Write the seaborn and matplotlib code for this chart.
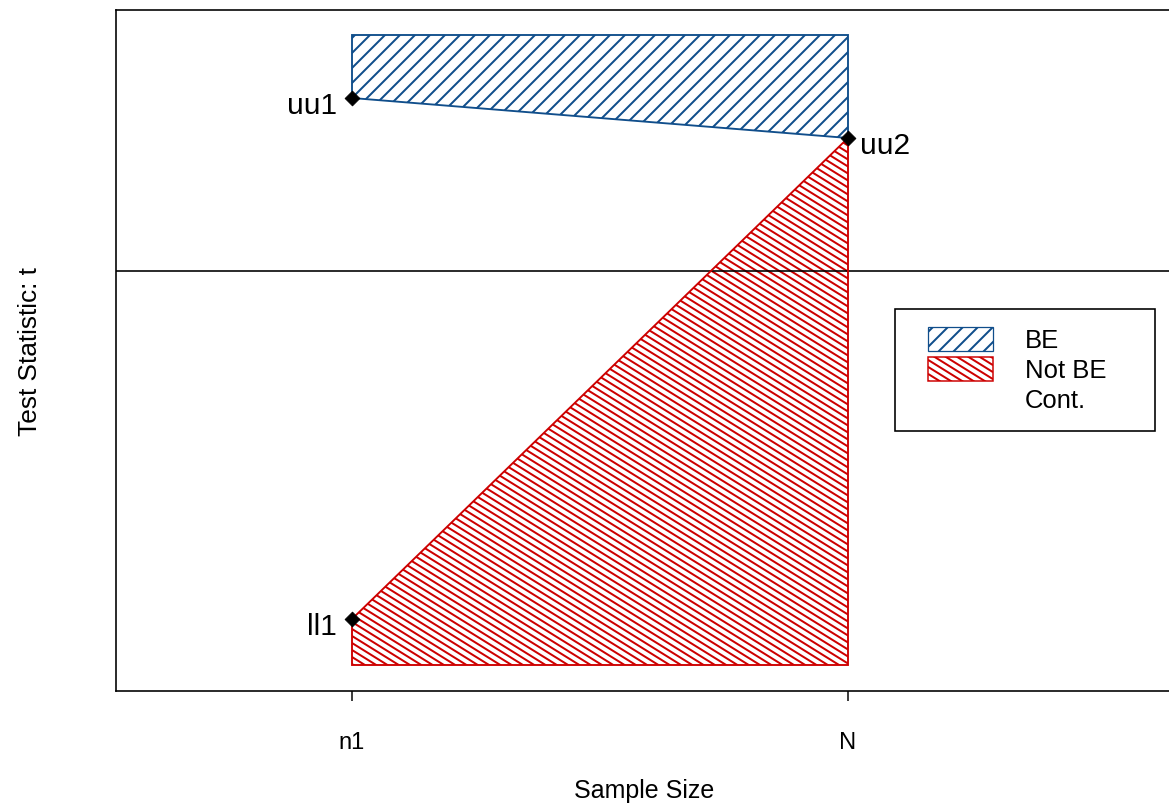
import numpy as np
import pandas as pd
import seaborn as sns
import matplotlib.pyplot as plt
from matplotlib.patches import Polygon, Patch, Rectangle
from matplotlib.collections import LineCollection

# x positions of the two looks
x_names = ["n1", "N"]
x_pos = [1, 2]

# boundary values (arbitrary t scale)
t_top = 2.36
t_bottom = -3.94
uu1 = 1.73
uu2 = 1.33
ll1 = -3.48
t_ref = 0.0

point_labels = ["uu1", "uu2", "ll1"]
point_x = [1, 2, 1]
point_t = [uu1, uu2, ll1]

legend_labels = ["BE", "Not BE", "Cont."]

blue = "#104E8B"
red = "#CD0000"

sns.set_style("white")
plt.rcParams["font.family"] = ["Liberation Sans", "DejaVu Sans"]
plt.rcParams["hatch.linewidth"] = 1.6
plt.rcParams["text.color"] = "black"
plt.rcParams["xtick.color"] = "black"
plt.rcParams["axes.labelcolor"] = "black"

W, H = 1169, 806
dpi = 90
fig = plt.figure(figsize=(W / dpi, H / dpi), dpi=dpi)
ax = fig.add_axes([116 / W, 1 - 691 / H, 1 - 116 / W, (691 - 10) / H])

px_x = 496.0   # pixels per x unit
px_y = 100.0   # pixels per t unit
slope_px = 0.62  # red hatch: down 0.62 px per px to the right
gap_px = 7.0     # vertical gap between red hatch lines

# BE region (upper)
be = Polygon([[x_pos[0], uu1], [x_pos[0], t_top], [x_pos[1], t_top], [x_pos[1], uu2]],
             closed=True, facecolor="none", edgecolor=blue, hatch="//", linewidth=1.5)
ax.add_patch(be)

# Not BE region (lower), shallower hatch drawn by hand and clipped
nbe = Polygon([[x_pos[0], t_bottom], [x_pos[0], ll1], [x_pos[1], uu2], [x_pos[1], t_bottom]],
              closed=True, facecolor="none", edgecolor=red, linewidth=1.5, zorder=3)
ax.add_patch(nbe)
k = slope_px * px_x / px_y
segs = [[(x_pos[0] - 0.1, c + 0.1 * k), (x_pos[1] + 0.1, c - 1.1 * k)]
        for c in np.arange(t_bottom - 0.2, uu2 + k + 0.2, gap_px / px_y)]
lc = LineCollection(segs, colors=red, linewidths=1.6, zorder=2)
ax.add_collection(lc)
lc.set_clip_path(nbe)

ax.axhline(t_ref, color="black", linewidth=1.3)

pts = pd.DataFrame({"x": point_x, "t": point_t, "lab": point_labels})
sns.scatterplot(data=pts, x="x", y="t", marker="D", color="black", s=70,
                edgecolor="black", ax=ax, zorder=5, legend=False)

for _, r in pts.iterrows():
    if r["x"] == x_pos[0]:
        ax.text(r["x"] - 0.03, r["t"] - 0.08, r["lab"], ha="right", va="center", fontsize=24)
    else:
        ax.text(r["x"] + 0.024, r["t"] - 0.08, r["lab"], ha="left", va="center", fontsize=24)

ax.set_xlim(1 - 236 / px_x, 2 + 321 / px_x)
ax.set_ylim(-(691 - 271) / px_y, (271 - 10) / px_y)

ax.set_xticks(x_pos)
ax.set_xticklabels(x_names, fontsize=19)
ax.set_yticks([])
ax.set_xlabel("")
ax.set_ylabel("")
ax.tick_params(axis="x", direction="out", length=8, width=1.2, pad=25, bottom=True,
               colors="black")

for s in ["left", "top", "bottom"]:
    ax.spines[s].set_visible(True)
    ax.spines[s].set_color("black")
    ax.spines[s].set_linewidth(1.3)
ax.spines["right"].set_visible(False)

fig.text(644 / W, 1 - 791 / H, "Sample Size", ha="center", va="center", fontsize=20)
fig.text(30 / W, 1 - 352 / H, "Test Statistic: t", ha="center", va="center",
         rotation=90, fontsize=21)


class ShallowHatch:
    # legend key: red box with the same shallow hatch as the plot
    def legend_artist(self, legend, orig_handle, fontsize, handlebox):
        x0, y0 = -handlebox.xdescent, -handlebox.ydescent
        w, h = handlebox.width, handlebox.height
        rect = Rectangle((x0, y0), w, h, facecolor="none", edgecolor=red, linewidth=1.2)
        handlebox.add_artist(rect)
        s = slope_px
        g = gap_px * 72 / dpi
        lines = []
        for c in np.arange(y0, y0 + h + s * w + g, g):
            lines.append([(x0, c), (x0 + w, c - s * w)])
        lc2 = LineCollection(lines, colors=red, linewidths=1.6)
        handlebox.add_artist(lc2)
        lc2.set_clip_path(rect)
        return rect


# legend: frame drawn separately so padding can differ left/right vs top/bottom
h_be = Patch(facecolor="none", edgecolor=blue, hatch="//")
h_nbe = Patch(facecolor="none", edgecolor=red)
h_cont = Patch(facecolor="none", edgecolor="none")
fs = 20.5
em = fs * dpi / 72
leg = ax.legend([h_be, h_nbe, h_cont], legend_labels, loc="upper left",
                bbox_to_anchor=(928 / W, 1 - 327 / H), bbox_transform=fig.transFigure,
                fontsize=fs, frameon=False, handler_map={h_nbe: ShallowHatch()},
                handlelength=65 / em, handleheight=27 / em, handletextpad=32 / em,
                labelspacing=0.17, borderpad=0.0, borderaxespad=0.0)
fig.add_artist(Rectangle((895 / W, 1 - 431 / H), 260 / W, 122 / H,
                         transform=fig.transFigure, facecolor="none",
                         edgecolor="black", linewidth=1.3))

fig.savefig("out.png", dpi=dpi)
